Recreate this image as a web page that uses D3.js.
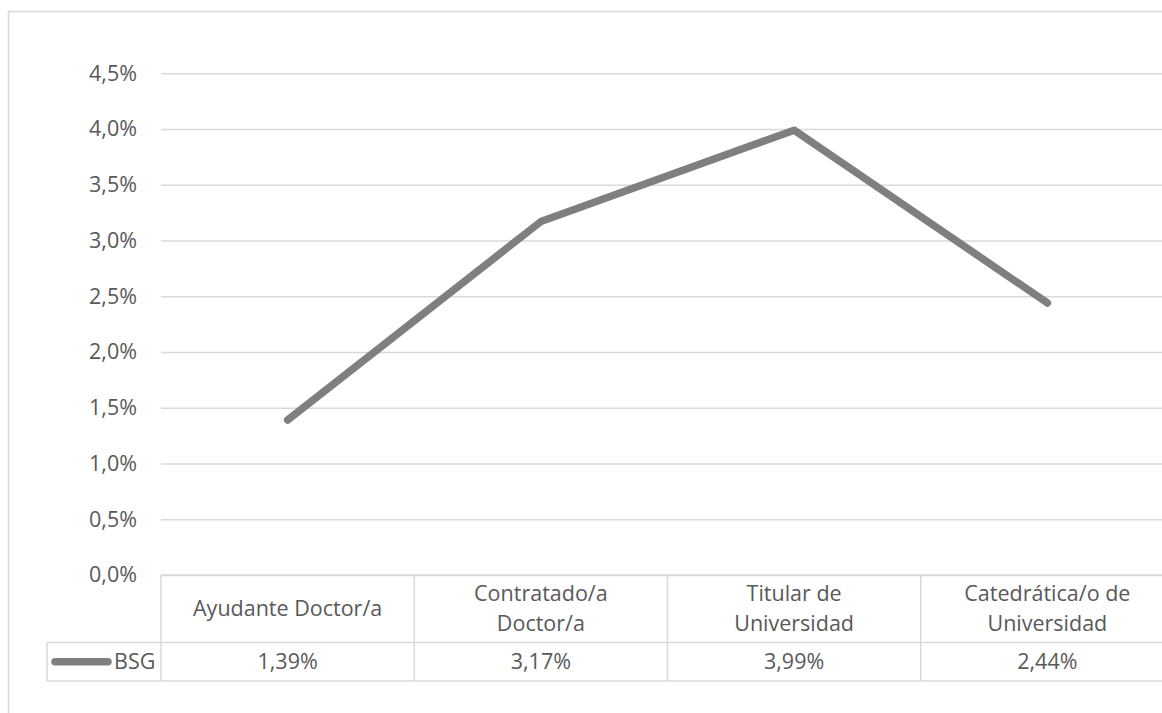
<!DOCTYPE html>
<html>
<head>
<meta charset="utf-8">
<script src="https://cdn.jsdelivr.net/npm/d3@7"></script>
<style>
  html, body { margin: 0; padding: 0; background: #ffffff; }
  svg { display: block; }
  text { font-family: "Open Sans", sans-serif; fill: #595959; }
</style>
</head>
<body>
<svg id="chart" width="1162" height="713"></svg>
<script>
// Categories (two-line labels where the table wraps them)
const categories = ["Ayudante Doctor/a", "Contratado/a Doctor/a", "Titular de Universidad", "Catedrática/o de Universidad"];
const categoryLines = [["Ayudante Doctor/a"], ["Contratado/a", "Doctor/a"], ["Titular de", "Universidad"], ["Catedrática/o de", "Universidad"]];
const seriesName = "BSG";
const seriesValues = [1.39, 3.17, 3.99, 2.44]; // percent
const yTicks = [0, 0.5, 1.0, 1.5, 2.0, 2.5, 3.0, 3.5, 4.0, 4.5];

const svg = d3.select("#chart");
const gridColor = "#d9d9d9";
const lineColor = "#7f7f7f";
const fontFamily = '"Open Sans", sans-serif';
const fontSize = 21.5;

const plot = { left: 161, right: 1174, top: 73.3, bottom: 575 };
const headerBottom = 642.5;
const tableBottom = 681;
const legendLeft = 47;

const x = d3.scaleBand().domain(categories).range([plot.left, plot.right]).paddingInner(0).paddingOuter(0);
const y = d3.scaleLinear().domain([0, 4.5]).range([plot.bottom, plot.top]);
const fmt = v => d3.format(".1f")(v).replace(".", ",") + "%";
const fmtVal = v => d3.format(".2f")(v).replace(".", ",") + "%";

// Outer chart frame
svg.append("rect")
  .attr("x", 8.5).attr("y", 11.5).attr("width", 1300).attr("height", 900)
  .attr("fill", "none").attr("stroke", gridColor).attr("stroke-width", 1.5);

// Gridlines and y-axis
const yAxis = d3.axisLeft(y).tickValues(yTicks).tickFormat(fmt).tickSize(-(plot.right - plot.left)).tickPadding(24);
const gy = svg.append("g").attr("transform", `translate(${plot.left},0)`).call(yAxis);
gy.select(".domain").remove();
gy.selectAll(".tick line").attr("stroke", gridColor).attr("stroke-width", 1.5);
gy.selectAll(".tick text")
  .attr("font-size", fontSize)
  .style("font-family", fontFamily)
  .attr("fill", "#595959");

// Data table grid
const tg = svg.append("g").attr("stroke", gridColor).attr("stroke-width", 1.5).attr("fill", "none");
tg.append("line").attr("x1", plot.left).attr("x2", plot.right).attr("y1", plot.bottom).attr("y2", plot.bottom);
tg.append("line").attr("x1", legendLeft).attr("x2", plot.right).attr("y1", headerBottom).attr("y2", headerBottom);
tg.append("line").attr("x1", legendLeft).attr("x2", plot.right).attr("y1", tableBottom).attr("y2", tableBottom);
tg.append("line").attr("x1", legendLeft).attr("x2", legendLeft).attr("y1", headerBottom).attr("y2", tableBottom);
categories.forEach(c => {
  tg.append("line").attr("x1", x(c)).attr("x2", x(c)).attr("y1", plot.bottom).attr("y2", tableBottom);
});

// Category header labels
const headerMid = (plot.bottom + headerBottom) / 2;
const lineH = 30;
categories.forEach((c, i) => {
  const lines = categoryLines[i];
  const t = svg.append("text")
    .attr("x", x(c) + x.bandwidth() / 2)
    .attr("text-anchor", "middle")
    .attr("font-size", fontSize);
  lines.forEach((l, j) => {
    t.append("tspan")
      .attr("x", x(c) + x.bandwidth() / 2)
      .attr("y", headerMid + (j - (lines.length - 1) / 2) * lineH)
      .attr("dy", "0.35em")
      .text(l);
  });
});

// Value row
const rowMid = (headerBottom + tableBottom) / 2;
categories.forEach((c, i) => {
  svg.append("text")
    .attr("x", x(c) + x.bandwidth() / 2)
    .attr("y", rowMid).attr("dy", "0.35em")
    .attr("text-anchor", "middle")
    .attr("font-size", fontSize)
    .text(fmtVal(seriesValues[i]));
});

// Legend key in the table
svg.append("line")
  .attr("x1", 55).attr("x2", 108).attr("y1", rowMid).attr("y2", rowMid)
  .attr("stroke", lineColor).attr("stroke-width", 7.5).attr("stroke-linecap", "round");
svg.append("text")
  .attr("x", 114).attr("y", rowMid).attr("dy", "0.35em")
  .attr("font-size", fontSize)
  .text(seriesName);

// Series line
const line = d3.line()
  .x((d, i) => x(categories[i]) + x.bandwidth() / 2)
  .y(d => y(d));
svg.append("path")
  .datum(seriesValues)
  .attr("d", line)
  .attr("fill", "none")
  .attr("stroke", lineColor)
  .attr("stroke-width", 7.5)
  .attr("stroke-linecap", "round")
  .attr("stroke-linejoin", "round");
</script>
</body>
</html>
